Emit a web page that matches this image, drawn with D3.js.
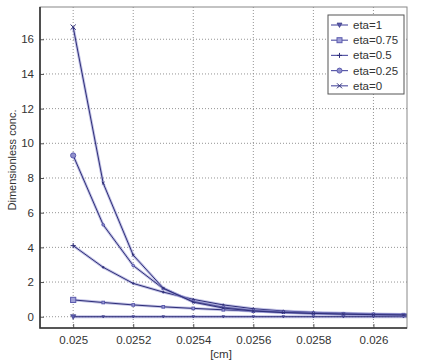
<!DOCTYPE html>
<html>
<head>
<meta charset="utf-8">
<script src="https://cdn.jsdelivr.net/npm/d3@7"></script>
<style>
  body { margin: 0; background: #fff; }
  text { font-family: "Liberation Sans", Arial, sans-serif; fill: #333; }
  .grid line { stroke: #888; stroke-dasharray: 1 2; stroke-width: 0.9; }
</style>
</head>
<body>
<svg id="svg" width="432" height="364"></svg>
<script>
// x positions [cm]
const xs = [0.025, 0.0251, 0.0252, 0.0253, 0.0254, 0.0255, 0.0256, 0.0257, 0.0258, 0.0259, 0.026, 0.0261, 0.0262];

// dimensionless concentration per eta
const eta1   = [0, 0, 0, 0, 0, 0, 0, 0, 0, 0, 0, 0, 0];
const eta075 = [0.97, 0.82, 0.68, 0.57, 0.48, 0.4, 0.32, 0.26, 0.21, 0.17, 0.14, 0.12, 0.1];
const eta05  = [4.1, 2.85, 1.92, 1.42, 1.0, 0.68, 0.46, 0.33, 0.25, 0.2, 0.16, 0.13, 0.11];
const eta025 = [9.3, 5.3, 2.95, 1.62, 0.88, 0.55, 0.36, 0.26, 0.2, 0.16, 0.13, 0.11, 0.09];
const eta0   = [16.7, 7.7, 3.55, 1.65, 0.84, 0.5, 0.33, 0.24, 0.19, 0.15, 0.12, 0.1, 0.08];

const seriesNames = ["eta=1", "eta=0.75", "eta=0.5", "eta=0.25", "eta=0"];
const seriesVals = [eta1, eta075, eta05, eta025, eta0];
const markers = ["tri", "square", "plus", "circle", "cross"];

const xTicks = [0.025, 0.0252, 0.0254, 0.0256, 0.0258, 0.026];
const xTickLabels = ["0.025", "0.0252", "0.0254", "0.0256", "0.0258", "0.026"];
const yTicks = [0, 2, 4, 6, 8, 10, 12, 14, 16];

const margin = { left: 40, top: 7, right: 25, bottom: 36 }
const W = 432, H = 364;
const width = W - margin.left - margin.right;
const height = H - margin.top - margin.bottom;

const svg = d3.select("svg");
const g = svg.append("g").attr("transform", "translate(" + margin.left + "," + margin.top + ")");

const x = d3.scaleLinear().domain([0.0248895, 0.0261118]).range([0, width]);
const y = d3.scaleLinear().domain([-0.65, 17.86]).range([height, 0]);

// dotted grid
g.append("g").attr("class", "grid")
  .selectAll("line").data(xTicks).enter().append("line")
  .attr("x1", d => x(d)).attr("x2", d => x(d)).attr("y1", 0).attr("y2", height);
g.append("g").attr("class", "grid")
  .selectAll("line").data(yTicks).enter().append("line")
  .attr("y1", d => y(d)).attr("y2", d => y(d)).attr("x1", 0).attr("x2", width);

// axes, ticks drawn inward like matlab
const xAxis = d3.axisBottom(x).tickValues(xTicks).tickSize(-4).tickPadding(8)
  .tickFormat((d, i) => xTickLabels[i]);
const yAxis = d3.axisLeft(y).tickValues(yTicks).tickSize(-4).tickPadding(6);

const gx = g.append("g").attr("transform", "translate(0," + height + ")").call(xAxis);
const gy = g.append("g").call(yAxis);
[gx, gy].forEach(a => {
  a.select(".domain").remove();
  a.selectAll("line").attr("stroke", "#555");
  a.selectAll("text").attr("font-size", 11.5).attr("fill", "#333");
});

// clip
g.append("clipPath").attr("id", "clip").append("rect").attr("width", width).attr("height", height);

const lineCol = "#2e2e78";
const markCol = "#5c5cae";

function drawMarker(sel, type, size) {
  const s = size;
  if (type === "tri") {
    sel.append("path").attr("d", `M${-s},${-s*0.8}L${s},${-s*0.8}L0,${s}Z`)
      .attr("fill", markCol).attr("stroke", lineCol).attr("stroke-width", 0.6);
  } else if (type === "square") {
    sel.append("rect").attr("x", -s).attr("y", -s).attr("width", 2*s).attr("height", 2*s)
      .attr("fill", "#a0a0d8").attr("stroke", markCol).attr("stroke-width", 1);
  } else if (type === "plus") {
    sel.append("path").attr("d", `M${-s},0L${s},0M0,${-s}L0,${s}`)
      .attr("stroke", lineCol).attr("stroke-width", 1);
  } else if (type === "circle") {
    sel.append("circle").attr("r", s).attr("fill", "#9090cc").attr("stroke", markCol).attr("stroke-width", 1);
  } else {
    sel.append("path").attr("d", `M${-s},${-s}L${s},${s}M${-s},${s}L${s},${-s}`)
      .attr("stroke", lineCol).attr("stroke-width", 1);
  }
}

const line = d3.line().x((d, i) => x(xs[i])).y(d => y(d));
const plot = g.append("g").attr("clip-path", "url(#clip)");

seriesVals.forEach((vals, k) => {
  // light band from the dense markers along the tail
  plot.append("path").datum(vals)
    .attr("d", line).attr("fill", "none")
    .attr("stroke", "#8484cc").attr("stroke-width", 2.8).attr("stroke-opacity", 0.5);
  plot.append("path").datum(vals)
    .attr("d", line).attr("fill", "none")
    .attr("stroke", lineCol).attr("stroke-width", 1);
  vals.forEach((v, i) => {
    const m = plot.append("g").attr("transform", "translate(" + x(xs[i]) + "," + y(v) + ")");
    drawMarker(m, markers[k], i === 0 ? 2.6 : 1.3);
  });
});

// frame
g.append("rect").attr("width", width).attr("height", height)
  .attr("fill", "none").attr("stroke", "#888").attr("stroke-width", 1);
g.append("path").attr("d", `M0,0L0,${height}L${width},${height}`)
  .attr("fill", "none").attr("stroke", "#333").attr("stroke-width", 1.6);

// axis labels
svg.append("text").attr("x", 221).attr("y", 358).attr("text-anchor", "middle")
  .attr("font-size", 11.5).text("[cm]");
svg.append("text").attr("transform", "translate(16,160) rotate(-90)")
  .attr("text-anchor", "middle").attr("font-size", 11).text("Dimensionless conc.");

// legend
const leg = svg.append("g").attr("transform", "translate(328,15)");
leg.append("rect").attr("width", 76).attr("height", 79)
  .attr("fill", "#fff").attr("stroke", "#555").attr("stroke-width", 1);
seriesNames.forEach((name, k) => {
  const row = leg.append("g").attr("transform", "translate(0," + (10 + k * 15.2) + ")");
  row.append("line").attr("x1", 3).attr("x2", 20).attr("stroke", "#5a5aa8").attr("stroke-width", 1.2);
  const m = row.append("g").attr("transform", "translate(11.5,0)");
  drawMarker(m, markers[k], 2.5);
  row.append("text").attr("x", 25).attr("y", 4).attr("font-size", 11.5).text(name);
});
</script>
</body>
</html>
